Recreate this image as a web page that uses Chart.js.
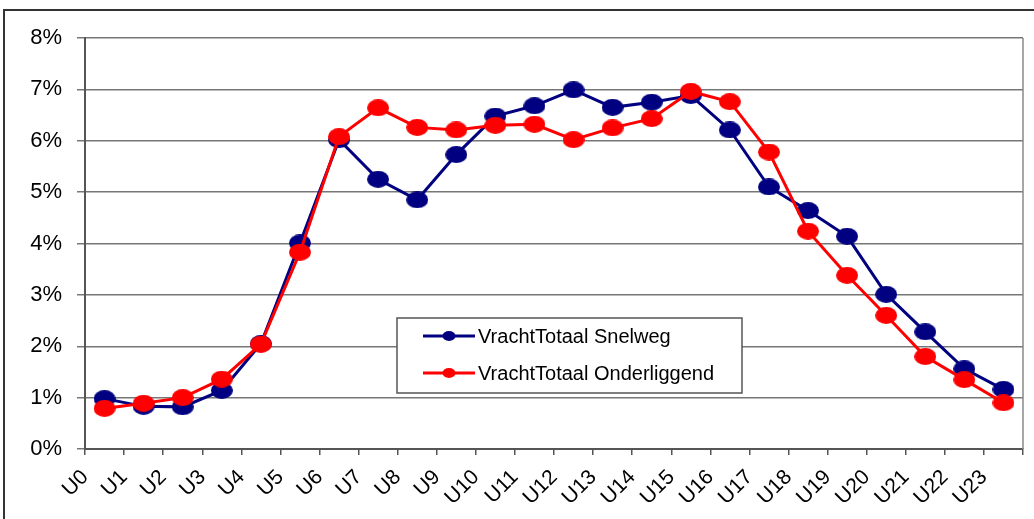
<!DOCTYPE html>
<html>
<head>
<meta charset="utf-8">
<script src="https://cdn.jsdelivr.net/npm/chart.js@4.4.0/dist/chart.umd.min.js"></script>
<style>
    html, body { margin: 0; padding: 0; background: #fff; overflow: hidden; }
    #wrap { position: relative; width: 1034px; height: 519px; }
    #frame { position: absolute; left: 3px; top: 9px; width: 1100px; height: 600px;
             border-top: 2px solid #333; border-left: 2px solid #333; }
    canvas { position: absolute; left: 0; top: 0; }
</style>
</head>
<body>
<div id="wrap">
    <div id="frame"></div>
    <canvas id="myLineChart" width="1034" height="519"></canvas>
</div>
<script>
// hour labels
const hours = ['U0', 'U1', 'U2', 'U3', 'U4', 'U5', 'U6', 'U7', 'U8', 'U9', 'U10', 'U11',
               'U12', 'U13', 'U14', 'U15', 'U16', 'U17', 'U18', 'U19', 'U20', 'U21', 'U22', 'U23'];

// share of daily freight per hour (%)
const snelweg = [0.98, 0.83, 0.82, 1.14, 2.05, 4.01, 6.02, 5.25, 4.85, 5.73, 6.48, 6.68,
                 6.99, 6.65, 6.75, 6.88, 6.21, 5.10, 4.64, 4.14, 3.01, 2.28, 1.56, 1.16];
const onderliggend = [0.79, 0.89, 1.00, 1.36, 2.04, 3.83, 6.08, 6.64, 6.26, 6.21, 6.30, 6.32,
                      6.02, 6.25, 6.43, 6.96, 6.76, 5.78, 4.24, 3.38, 2.60, 1.80, 1.35, 0.90];

const seriesNames = ['VrachtTotaal Snelweg', 'VrachtTotaal Onderliggend'];
const seriesColors = ['#000080', '#ff0000'];

// Excel style markers are slightly wider than tall
function makeDot(color, w, h) {
    const c = document.createElement('canvas');
    c.width = w;
    c.height = h;
    const g = c.getContext('2d');
    g.fillStyle = color;
    g.beginPath();
    g.ellipse(w / 2, h / 2, w / 2, h / 2, 0, 0, Math.PI * 2);
    g.fill();
    return c;
}

const fontFamily = "'Liberation Sans', Arial, sans-serif";

// legend box drawn inside the plot area
const boxLegend = {
    id: 'boxLegend',
    afterDatasetsDraw(chart) {
        const ctx = chart.ctx;
        const area = chart.chartArea;
        const left = area.left + 312;
        const top = area.top + 280;
        const w = 345, h = 75;
        ctx.save();
        ctx.fillStyle = '#fff';
        ctx.fillRect(left, top, w, h);
        ctx.strokeStyle = '#555';
        ctx.lineWidth = 1.5;
        ctx.strokeRect(left, top, w, h);
        ctx.font = '20px ' + fontFamily;
        ctx.textBaseline = 'middle';
        chart.data.datasets.forEach((ds, i) => {
            const y = top + 18 + i * 37;
            ctx.strokeStyle = ds.borderColor;
            ctx.lineWidth = 3;
            ctx.beginPath();
            ctx.moveTo(left + 26, y);
            ctx.lineTo(left + 78, y);
            ctx.stroke();
            ctx.fillStyle = ds.borderColor;
            ctx.beginPath();
            ctx.ellipse(left + 52, y, 6.5, 5, 0, 0, Math.PI * 2);
            ctx.fill();
            ctx.fillStyle = '#000';
            ctx.fillText(ds.label, left + 81, y + 1);
        });
        ctx.restore();
    }
};

// right edge of the plot frame
const plotFrame = {
    id: 'plotFrame',
    beforeDatasetsDraw(chart) {
        const ctx = chart.ctx;
        const area = chart.chartArea;
        ctx.save();
        ctx.strokeStyle = '#888';
        ctx.lineWidth = 1.5;
        ctx.beginPath();
        ctx.moveTo(area.right, area.top);
        ctx.lineTo(area.right, area.bottom);
        ctx.stroke();
        ctx.restore();
    }
};

window.onload = function () {
    const ctx = document.getElementById('myLineChart').getContext('2d');
    new Chart(ctx, {
        type: 'line',
        data: {
            labels: hours,
            datasets: [{
                label: seriesNames[0],
                data: snelweg,
                borderColor: seriesColors[0],
                backgroundColor: seriesColors[0],
                borderWidth: 3,
                pointStyle: makeDot(seriesColors[0], 22, 17),
                order: 2
            }, {
                label: seriesNames[1],
                data: onderliggend,
                borderColor: seriesColors[1],
                backgroundColor: seriesColors[1],
                borderWidth: 3,
                pointStyle: makeDot(seriesColors[1], 22, 17),
                order: 1
            }]
        },
        options: {
            responsive: false,
            animation: false,
            layout: {
                padding: { top: 38, right: 11, left: 0, bottom: 0 }
            },
            plugins: {
                legend: { display: false },
                tooltip: { enabled: false }
            },
            scales: {
                x: {
                    offset: true,
                    grid: {
                        offset: true,
                        drawOnChartArea: false,
                        color: '#555',
                        lineWidth: 1.5,
                        tickLength: 6
                    },
                    border: { color: '#555', width: 2 },
                    ticks: {
                        autoSkip: false,
                        minRotation: 45,
                        maxRotation: 45,
                        labelOffset: -19.5,
                        padding: 10,
                        color: '#000',
                        font: { family: fontFamily, size: 21 }
                    },
                    afterFit(scale) { scale.height = 70; }
                },
                y: {
                    min: 0,
                    max: 8,
                    grid: {
                        color: '#777',
                        lineWidth: 1.5,
                        tickLength: 8
                    },
                    border: { color: '#555', width: 2 },
                    ticks: {
                        stepSize: 1,
                        padding: 15,
                        color: '#000',
                        font: { family: fontFamily, size: 22 },
                        callback: (v) => v + '%'
                    },
                    afterFit(scale) { scale.width = 85; }
                }
            }
        },
        plugins: [plotFrame, boxLegend]
    });
};
</script>
</body>
</html>
